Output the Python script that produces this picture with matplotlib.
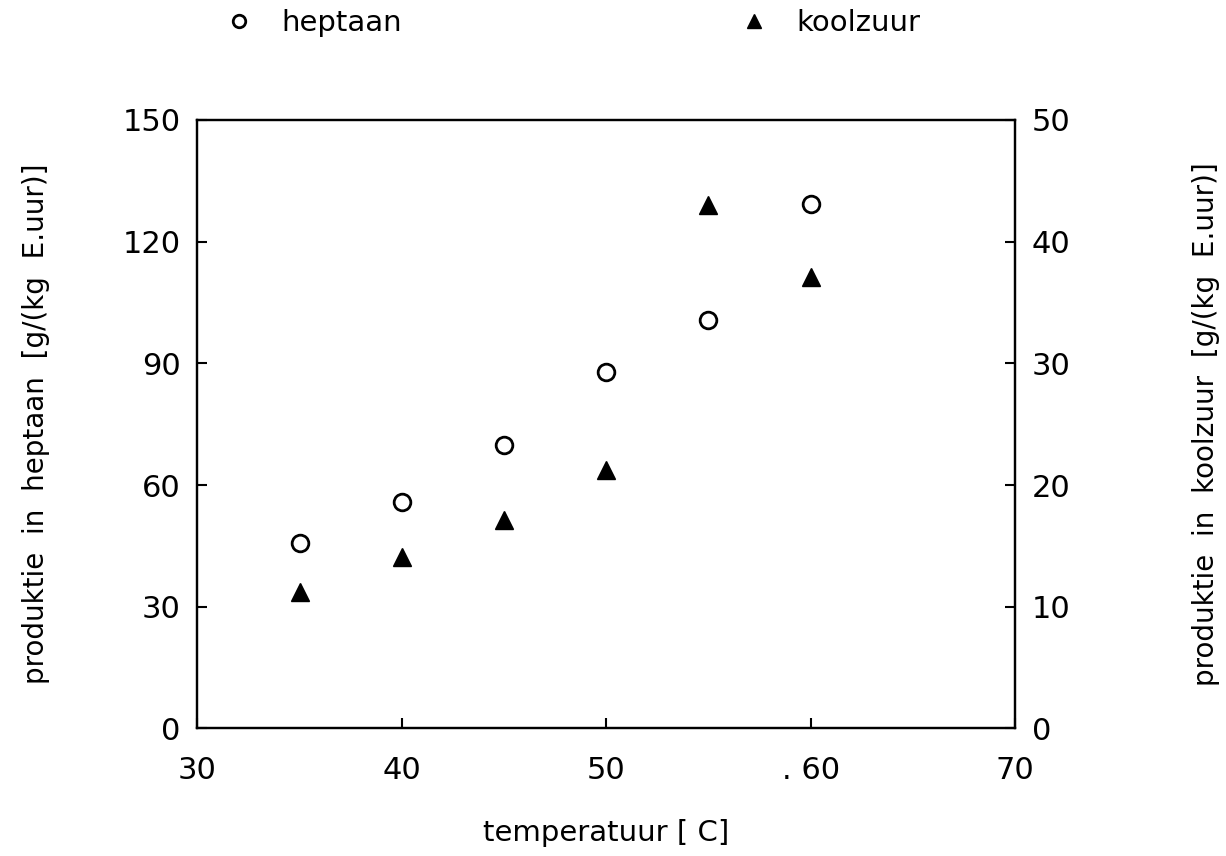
# produktie van heptaan en koolzuur tegen temperatuur
import matplotlib.pyplot as plt

plt.rcParams['font.family'] = ['DejaVu Sans']

# data
temperatuur = [35, 40, 45, 50, 55, 60]
heptaan = [45.8, 55.9, 69.9, 87.8, 100.6, 129.3]     # left axis
koolzuur = [11.2, 14.1, 17.1, 21.2, 43.0, 37.1]      # right axis

xticks = [30, 40, 50, 60, 70]
xticklabels = ['30', '40', '50', '. 60', '70']
yticks_left = [0, 30, 60, 90, 120, 150]
yticks_right = [0, 10, 20, 30, 40, 50]

fig = plt.figure(figsize=(12.26, 8.56), dpi=100)
ax = fig.add_axes([0.161, 0.149, 0.667, 0.711])
ax2 = ax.twinx()

ax.plot(temperatuur, heptaan, linestyle='none', marker='o', markersize=12,
        markerfacecolor='white', markeredgecolor='black', markeredgewidth=2,
        label='heptaan')
ax2.plot(temperatuur, koolzuur, linestyle='none', marker='^', markersize=13,
         color='black', label='koolzuur')

ax.set_xlim(30, 70)
ax.set_ylim(0, 150)
ax2.set_ylim(0, 50)

ax.set_xticks(xticks)
ax.set_xticklabels(xticklabels)
ax.set_yticks(yticks_left)
ax2.set_yticks(yticks_right)

for a in (ax, ax2):
    for s in a.spines.values():
        s.set_linewidth(1.6)
    a.tick_params(direction='in', length=7, width=1.5, labelsize=22, pad=12)
ax.tick_params(axis='x', pad=20)

ax.set_xlabel('temperatuur [ C]', fontsize=21, labelpad=24)
ax.set_ylabel('produktie  in  heptaan  [g/(kg  E.uur)]', fontsize=20, labelpad=52)
ax2.set_ylabel('produktie  in  koolzuur  [g/(kg  E.uur)]', fontsize=20, labelpad=87)

h1, l1 = ax.get_legend_handles_labels()
h2, l2 = ax2.get_legend_handles_labels()
fig.legend(h1 + h2, l1 + l2, loc='upper left', bbox_to_anchor=(0.156, 1.02),
           ncol=2, frameon=False, fontsize=21, columnspacing=11.3,
           handlelength=1.5, handletextpad=0.7, markerscale=0.75)

plt.savefig('out.png', dpi=100)
